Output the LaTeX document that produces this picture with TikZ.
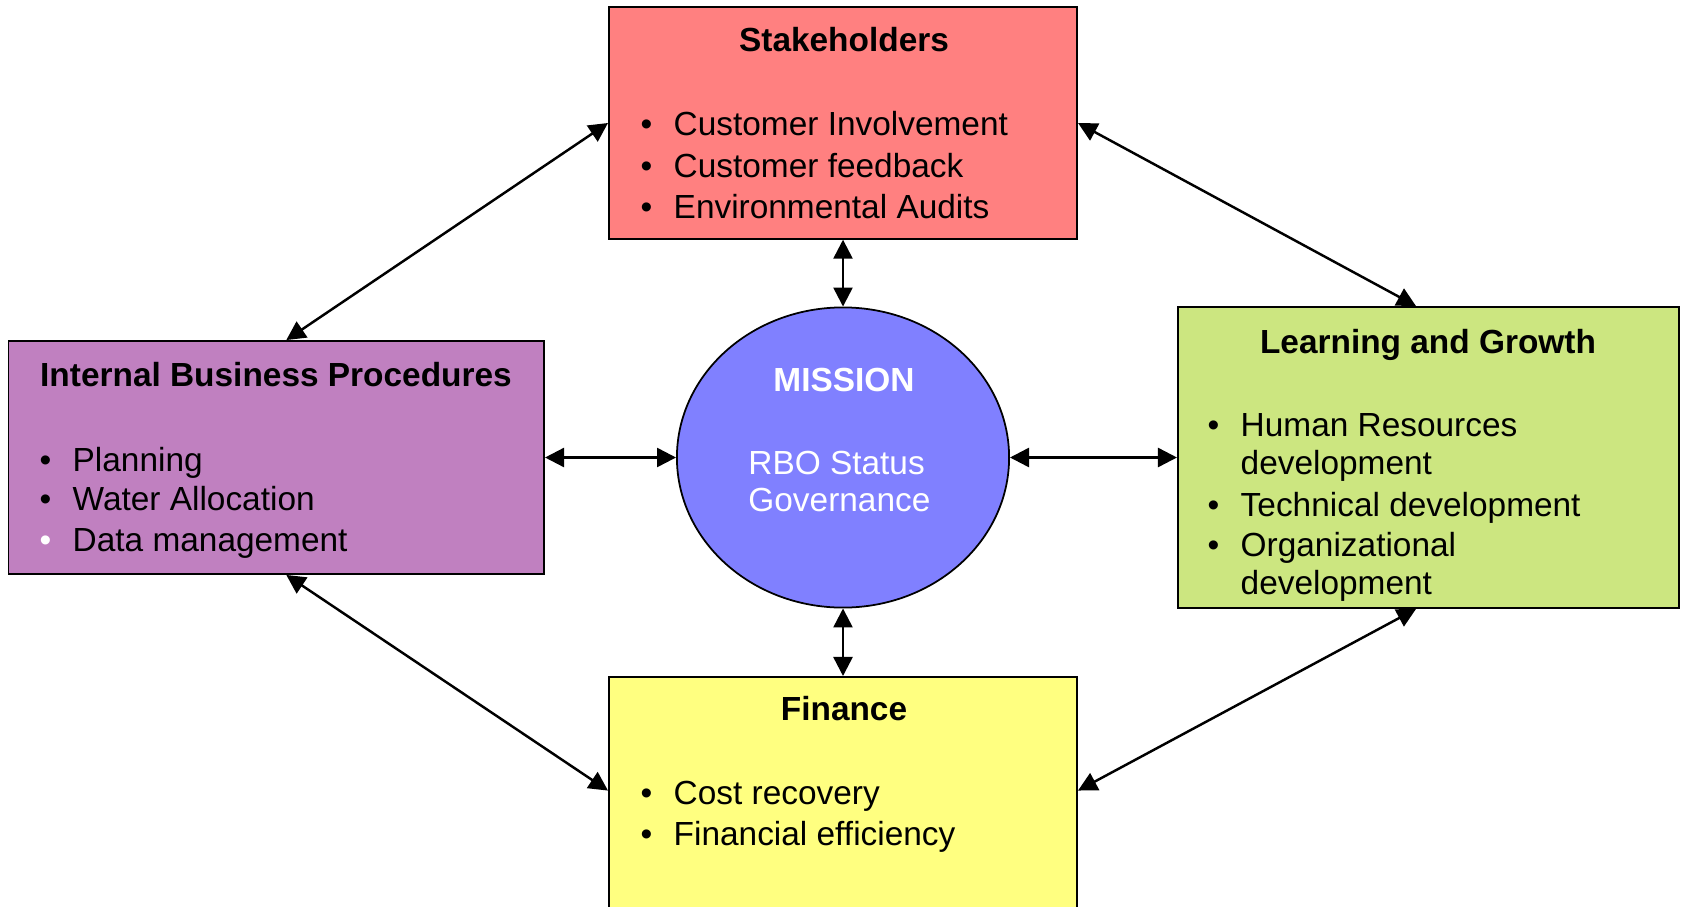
\documentclass[tikz,border=0pt]{standalone}
\usepackage{fontspec}
\setmainfont{Liberation Sans}
\usetikzlibrary{shapes.geometric,arrows.meta,positioning,calc}

\definecolor{stakered}{HTML}{FF8080}
\definecolor{procpurple}{HTML}{C080C0}
\definecolor{growgreen}{HTML}{CCE680}
\definecolor{finyellow}{HTML}{FFFF80}
\definecolor{missionblue}{HTML}{8080FF}

\newcommand{\bul}{\makebox[0.33cm][l]{\textbullet}}
\newcommand{\wbul}{\makebox[0.33cm][l]{\textcolor{white}{\textbullet}}}

\begin{document}
\begin{tikzpicture}[x=0.01cm, y=-0.01cm,
        font=\fontsize{9.5}{11.7}\selectfont,
        box/.style={draw=black, line width=0.5pt, rectangle, inner sep=0pt},
        head/.style={font=\fontsize{9.5}{11.7}\selectfont\bfseries, anchor=base, inner sep=0pt},
        item/.style={anchor=base west, inner sep=0pt},
        link/.style={{Triangle[length=0.19cm,width=0.19cm]}-{Triangle[length=0.19cm,width=0.19cm]}, line width=0.7pt}]
        \useasboundingbox (0,0) rectangle (1682,906);

        % Boxes
        \node[box, fill=stakered, minimum width=4.68cm, minimum height=2.315cm] (stake) at (843,123) {};
        \node[box, fill=procpurple, minimum width=5.354cm, minimum height=2.33cm] (proc) at (276.3,457.5) {};
        \node[box, fill=growgreen, minimum width=5.01cm, minimum height=3.01cm] (grow) at (1428.5,457.5) {};
        \node[box, fill=finyellow, minimum width=4.68cm, minimum height=2.6cm, anchor=north] (fin) at (843,676) {};

        % Mission
        \node[draw=black, ellipse, fill=missionblue, line width=0.5pt, minimum width=3.32cm, minimum height=3.0cm, inner sep=0pt] (mission) at (843,457.5) {};
        \node[head, text=white] (missiontitle) at (844,391.5) {MISSION};
        \node[item, text=white] (mission1) at (747.7,474) {RBO Status};
        \node[item, text=white] (mission2) at (747.7,511.7) {Governance};

        % Stakeholders
        \node[head] (staketitle) at (844,51.5) {Stakeholders};
        \node[item] (stake1) at (640,135) {\bul Customer Involvement};
        \node[item] (stake2) at (640,177) {\bul Customer feedback};
        \node[item] (stake3) at (640,218) {\bul Environmental Audits};

        % Internal business procedures
        \node[head] (proctitle) at (276,386) {Internal Business Procedures};
        \node[item] (proc1) at (39,471) {\bul Planning};
        \node[item] (proc2) at (39,510.6) {\bul Water Allocation};
        \node[item] (proc3) at (39,551) {\wbul Data management};

        % Learning and growth
        \node[head] (growtitle) at (1428,353) {Learning and Growth};
        \node[item] (grow1) at (1207,436.6) {\bul Human Resources};
        \node[item] (grow1b) at (1240,474) {development};
        \node[item] (grow2) at (1207,516) {\bul Technical development};
        \node[item] (grow3) at (1207,556.7) {\bul Organizational};
        \node[item] (grow3b) at (1240,594) {development};

        % Finance
        \node[head] (fintitle) at (844,720) {Finance};
        \node[item] (fin1) at (640,804.5) {\bul Cost recovery};
        \node[item] (fin2) at (640,845) {\bul Financial efficiency};

        % Links to the mission
        \draw[link] (stake.south) -- (mission.north);
        \draw[link] (mission.south) -- (fin.north);
        \draw[link] (proc.east) -- (mission.west);
        \draw[link] (mission.east) -- (grow.west);

        % Links round the outside
        \draw[link] (stake.west) -- ([xshift=0.1cm]proc.north);
        \draw[link] (stake.east) -- ([xshift=-0.125cm]grow.north);
        \draw[link] ([xshift=0.1cm]proc.south) -- ([yshift=-1.145cm]fin.north west);
        \draw[link] ([xshift=-0.125cm]grow.south) -- ([yshift=-1.145cm]fin.north east);
    \end{tikzpicture}
\end{document}
